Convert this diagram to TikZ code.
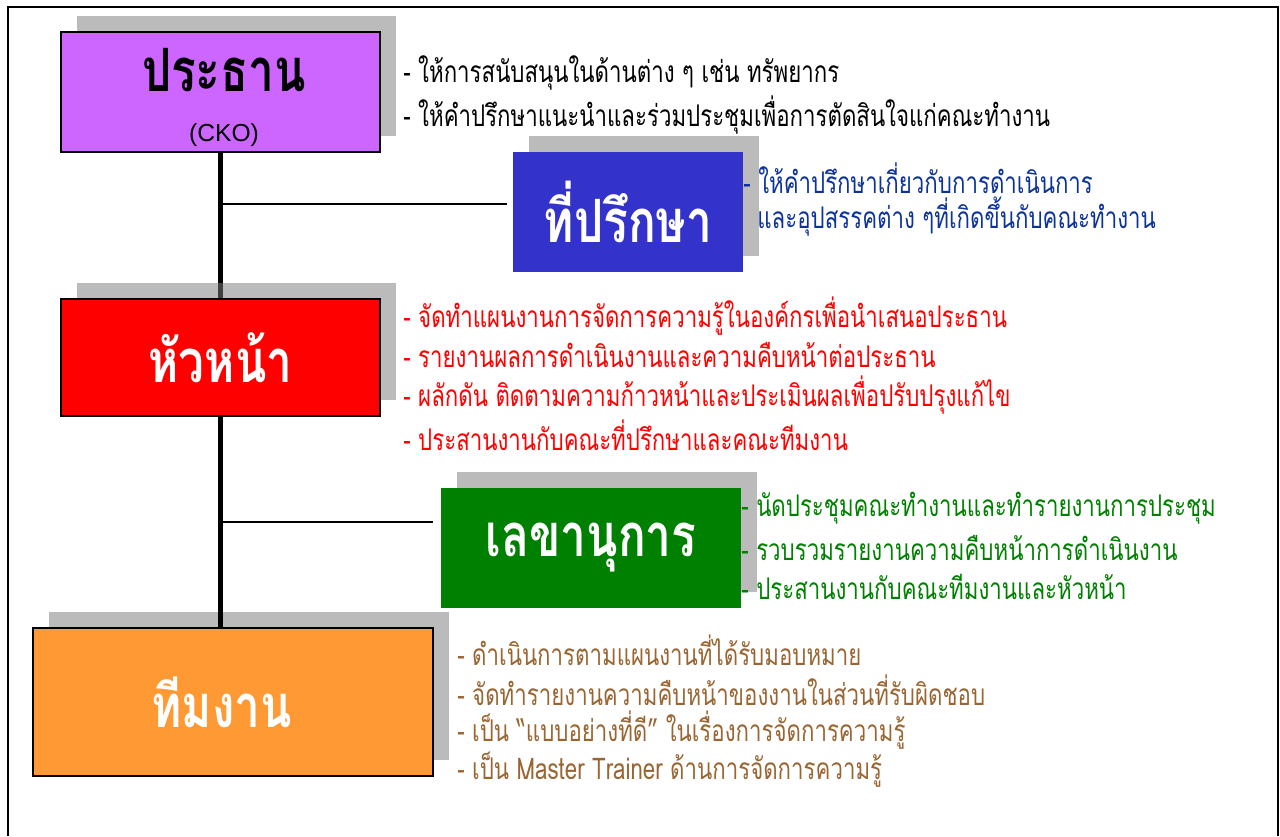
\documentclass[tikz,border=0pt]{standalone}
\usepackage{fontspec}
\setmainfont{Liberation Sans}
\newfontfamily\thai[Script=Thai,FakeStretch=0.745]{Loma}
\newfontfamily\thaititle[Script=Thai,FakeStretch=0.77]{Loma}
\usetikzlibrary{shadows,backgrounds}

\definecolor{chairpurple}{HTML}{CC66FF}
\definecolor{advblue}{HTML}{3333CC}
\definecolor{advtext}{HTML}{0D3399}
\definecolor{headred}{HTML}{FF0000}
\definecolor{secgreen}{HTML}{008000}
\definecolor{teamorange}{HTML}{FF9933}
\definecolor{teamtext}{HTML}{996633}
\definecolor{shadowgray}{HTML}{7C7C7C}

\tikzset{
  orgbox/.style={rectangle, inner sep=0pt, text=white,
    font=\thaititle\fontsize{34}{38}\selectfont\bfseries,
    drop shadow={shadow xshift=0.32cm, shadow yshift=0.32cm, fill=shadowgray, opacity=0.52}},
  framed/.style={draw=black, line width=1.1pt},
  duty/.style={anchor=west, inner sep=0pt, font=\thai\fontsize{17}{20}\selectfont},
  spine/.style={line width=3.4pt},
  branch/.style={line width=0.8pt}
}

\begin{document}
\begin{tikzpicture}[x=0.02cm, y=-0.02cm]
	\useasboundingbox (0,0) rectangle (1280,836);
	% outer frame
	\draw[line width=1.1pt] (8,836) -- (8,7) -- (1278,7) -- (1278,836);

	% boxes
	\node[orgbox, framed, fill=chairpurple, minimum width=6.38cm, minimum height=2.4cm] (chair) at (220.5,92) {};
	\node[inner sep=0pt, font=\thaititle\fontsize{34}{38}\selectfont\bfseries] (chairname) at (224,70) {ประธาน};
	\node[inner sep=0pt, font=\fontsize{14}{16}\selectfont] (chairtag) at (224,135) {(CKO)};
	\node[orgbox, fill=advblue, minimum width=4.6cm, minimum height=2.4cm] (advisor) at (628,212) {ที่ปรึกษา};
	\node[orgbox, framed, fill=headred, minimum width=6.38cm, minimum height=2.34cm] (head) at (220.5,357.5) {หัวหน้า};
	\node[orgbox, fill=secgreen, minimum width=6cm, minimum height=2.4cm] (secretary) at (591,548) {เลขานุการ};
	\node[orgbox, framed, fill=teamorange, minimum width=8cm, minimum height=2.96cm, text width=7.6cm, align=center] (team) at (233,702) {ทีมงาน\hspace*{0.45cm}};

	% connectors
	\coordinate (advhook) at (507,204);
	\coordinate (sechook) at (433,522);
	\begin{scope}[on background layer]
		\draw[spine] (chair.south) -- (chair.south |- head.north);
		\draw[branch] (chair.south |- advhook) -- (advhook);
		\draw[branch] (chair.south |- sechook) -- (sechook);
	\end{scope}
	\draw[spine] (chair.south |- head.south) -- (chair.south |- team.north);

	% duties
	\node[duty] (chairA) at (403,73) {- ให้การสนับสนุนในด้านต่าง ๆ เช่น ทรัพยากร};
	\node[duty] (chairB) at (403,115) {- ให้คำปรึกษาแนะนำและร่วมประชุมเพื่อการตัดสินใจแก่คณะทำงาน};

	\node[duty, text=advtext] (advA) at (743,178) {- ให้คำปรึกษาเกี่ยวกับการดำเนินการ};
	\node[duty, text=advtext] (advB) at (757,217) {และอุปสรรคต่าง ๆที่เกิดขึ้นกับคณะทำงาน};

	\node[duty, text=headred] (headA) at (403,316) {- จัดทำแผนงานการจัดการความรู้ในองค์กรเพื่อนำเสนอประธาน};
	\node[duty, text=headred] (headB) at (403,355) {- รายงานผลการดำเนินงานและความคืบหน้าต่อประธาน};
	\node[duty, text=headred] (headC) at (403,395) {- ผลักดัน ติดตามความก้าวหน้าและประเมินผลเพื่อปรับปรุงแก้ไข};
	\node[duty, text=headred] (headD) at (403,435) {- ประสานงานกับคณะที่ปรึกษาและคณะทีมงาน};

	\node[duty, text=secgreen] (secA) at (741,508) {- นัดประชุมคณะทำงานและทำรายงานการประชุม};
	\node[duty, text=secgreen] (secB) at (741,548) {- รวบรวมรายงานความคืบหน้าการดำเนินงาน};
	\node[duty, text=secgreen] (secC) at (741,587) {- ประสานงานกับคณะทีมงานและหัวหน้า};

	\node[duty, text=teamtext] (teamA) at (457,650) {- ดำเนินการตามแผนงานที่ได้รับมอบหมาย};
	\node[duty, text=teamtext] (teamB) at (457,690) {- จัดทำรายงานความคืบหน้าของงานในส่วนที่รับผิดชอบ};
	\node[duty, text=teamtext] (teamC) at (457,730) {- เป็น “แบบอย่างที่ดี” ในเรื่องการจัดการความรู้};
	\node[duty, text=teamtext] (teamD) at (457,770) {- เป็น Master Trainer ด้านการจัดการความรู้};
\end{tikzpicture}
\end{document}
